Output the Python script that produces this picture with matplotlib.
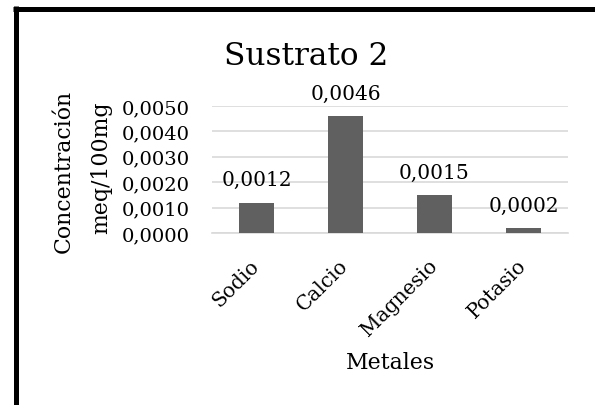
import matplotlib
matplotlib.use("Agg")
import matplotlib.pyplot as plt
from matplotlib.lines import Line2D
from matplotlib.ticker import FuncFormatter, MultipleLocator

categories = ["Sodio", "Calcio", "Magnesio", "Potasio"]
values = [0.0012, 0.0046, 0.0015, 0.0002]
title = "Sustrato 2"
ylabel_lines = ["Concentración", "meq/100mg"]
xlabel = "Metales"

plt.rcParams['font.family'] = ['DejaVu Serif']
FS = 14
LFS = 15.8

fig = plt.figure(figsize=(5.95, 4.06), dpi=100)
W, H = 595, 406
ax = fig.add_axes([212 / W, 1 - 234 / H, 356 / W, 127 / H])

x = range(len(categories))
bars = ax.bar(x, values, width=0.39, color="#606060", zorder=3)
ax.set_xlim(-0.5, len(categories) - 0.5)
ax.set_ylim(0, 0.0050)
ax.yaxis.set_major_locator(MultipleLocator(0.0010))
ax.yaxis.set_major_formatter(FuncFormatter(lambda v, p: f"{v:.4f}".replace(".", ",")))
ax.grid(axis="y", color="#d9d9d9", linewidth=1.2, zorder=0)
for s in ["top", "right", "left"]:
    ax.spines[s].set_visible(False)
ax.spines["bottom"].set_color("#d9d9d9")
ax.spines["bottom"].set_linewidth(1.2)
ax.tick_params(axis="both", length=0, labelsize=FS)
ax.tick_params(axis="y", pad=16)
ax.tick_params(axis="x", pad=21, labelsize=14.5)
ax.set_xticks(list(x))
ax.set_xticklabels(categories, rotation=45, ha="right", va="center", rotation_mode="anchor")

for xi, v in zip(x, values):
    ax.annotate(f"{v:.4f}".replace(".", ","), (xi, v), xytext=(0, 12.5),
                textcoords="offset points", ha="center", va="baseline", fontsize=14.5)

ax.text(0.5, -1.016, xlabel, transform=ax.transAxes, ha="center", va="center", fontsize=LFS)

fig.text(64 / W, 1 - 171 / H, ylabel_lines[0], rotation=90, ha="center", va="center", fontsize=LFS)
fig.text(101 / W, 1 - 168 / H, ylabel_lines[1], rotation=90, ha="center", va="center", fontsize=LFS)

fig.text(306 / W, 1 - 65 / H, title, ha="center", va="baseline", fontsize=22.5)

# chart border (top and left)
fig.add_artist(Line2D([13 / W, 1.0], [1 - 9.5 / H, 1 - 9.5 / H], transform=fig.transFigure,
                      color="black", linewidth=3.6, solid_capstyle="butt"))
fig.add_artist(Line2D([15.5 / W, 15.5 / W], [1 - 7 / H, 0.0], transform=fig.transFigure,
                      color="black", linewidth=3.6, solid_capstyle="butt"))

fig.savefig("out.png", dpi=100)
